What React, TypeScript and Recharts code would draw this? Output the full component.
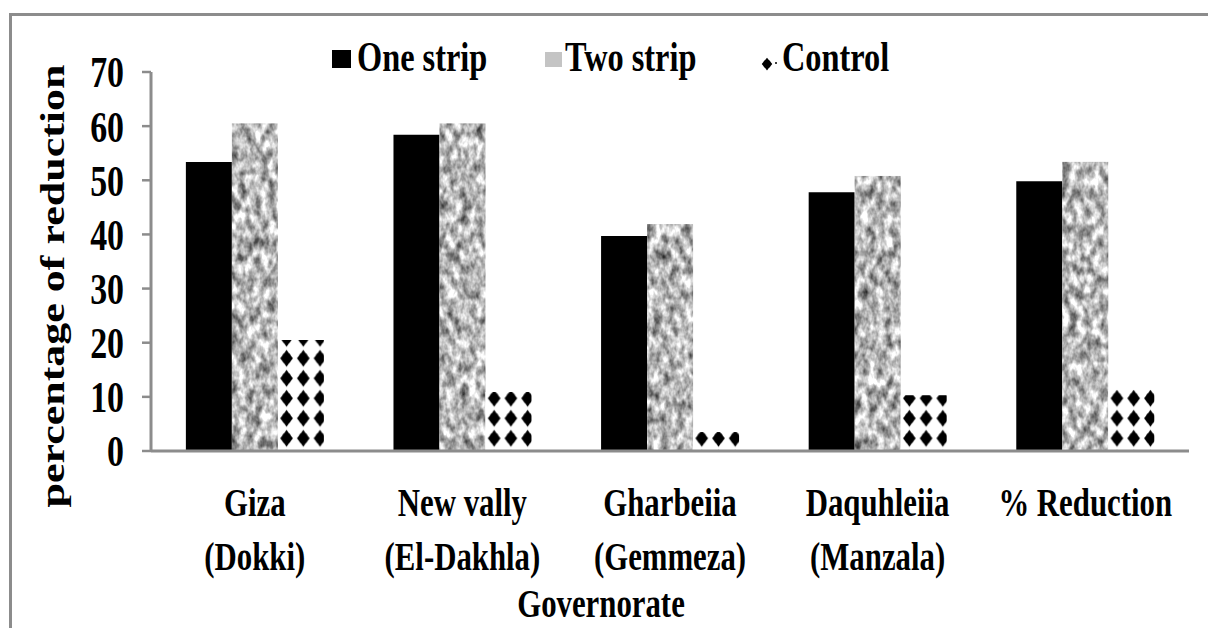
import React from 'react';
import { BarChart, Bar, XAxis, YAxis, Legend } from 'recharts';

const categories = [
  'Giza (Dokki)',
  'New vally (El-Dakhla)',
  'Gharbeiia (Gemmeza)',
  'Daquhleiia (Manzala)',
  '% Reduction',
];
const oneStrip = [53.4, 58.4, 39.7, 47.8, 49.8];
const twoStrip = [60.5, 60.5, 41.9, 50.8, 53.4];
const control = [20.5, 10.9, 3.5, 10.3, 11.3];
const yTicks = [0, 10, 20, 30, 40, 50, 60, 70];

const data = categories.map((c, i) => ({
  category: c,
  one: oneStrip[i],
  two: twoStrip[i],
  control: control[i],
}));

const S = 0.77;
const FONT = '"Liberation Serif", "Times New Roman", serif';
const AXIS = '#8c8c8c';
const STAR =
  'M0,-8.5 L2.6,-5.2 A6,6 0 0 1 5.2,-2.6 L7.5,0 L5.2,2.6 A6,6 0 0 1 2.6,5.2 L0,8.5 L-2.6,5.2 A6,6 0 0 1 -5.2,2.6 L-7.5,0 L-5.2,-2.6 A6,6 0 0 1 -2.6,-5.2 Z';

const XTick = (props: any) => {
  const { x, y, payload } = props;
  const label: string = String(payload.value);
  const idx = label.indexOf(' (');
  const l1 = idx >= 0 ? label.slice(0, idx) : label;
  const l2 = idx >= 0 ? label.slice(idx + 1) : '';
  const common = {
    textAnchor: 'middle' as const,
    fontFamily: FONT,
    fontWeight: 'bold' as const,
    fontSize: 40,
    fill: '#000',
  };
  return (
    <g>
      <text transform={`translate(${x},${y + 65}) scale(${S},1)`} {...common}>
        {l1}
      </text>
      {l2 ? (
        <text transform={`translate(${x},${y + 119}) scale(${S},1)`} {...common}>
          {l2}
        </text>
      ) : null}
    </g>
  );
};

const YTick = (props: any) => {
  const { x, y, payload } = props;
  return (
    <text
      transform={`translate(${x},${y}) scale(${S},1)`}
      textAnchor="end"
      dy="0.35em"
      fontFamily={FONT}
      fontWeight="bold"
      fontSize={44}
      fill="#000"
    >
      {payload.value}
    </text>
  );
};

const YLabel = () => (
  <text
    transform={`translate(64,286) rotate(-90) scale(1,${S})`}
    textAnchor="middle"
    fontFamily={FONT}
    fontWeight="bold"
    fontSize={44}
    fill="#000"
  >
    percentage of reduction
  </text>
);

const XLabel = () => (
  <text
    transform={`translate(601,617) scale(${S},1)`}
    textAnchor="middle"
    fontFamily={FONT}
    fontWeight="bold"
    fontSize={40}
    fill="#000"
  >
    Governorate
  </text>
);

const TwoShape = (props: any) => {
  const { x, y, width, height } = props;
  if (!height || height <= 0) return null;
  return <rect x={x} y={y} width={width} height={height} fill="#a8a8a8" filter="url(#granite)" />;
};

const ControlShape = (props: any) => {
  const { x, y, width, height, index } = props;
  if (!height || height <= 0) return null;
  const pw = width / 2.75;
  const id = `ctrl-pat-${index}`;
  return (
    <g>
      <defs>
        <pattern id={id} patternUnits="userSpaceOnUse" x={x + 8.7 - pw / 2} y={y + height - 22.7} width={pw} height={20}>
          <rect x={0} y={0} width={pw} height={20} fill="#fff" />
          <path d={STAR} transform={`translate(${pw / 2},10) scale(${S * 1.1},1)`} fill="#000" />
        </pattern>
      </defs>
      <rect x={x} y={y} width={width} height={height} fill={`url(#${id})`} />
    </g>
  );
};

const legendPos: Record<string, { icon: number; text: number }> = {
  one: { icon: 332, text: 357 },
  two: { icon: 545, text: 565 },
  control: { icon: 762, text: 782 },
};

const LegendContent = (props: any) => {
  const payload = props.payload || [];
  return (
    <div style={{ position: 'relative', height: 0 }}>
      <svg width={1208} height={100} style={{ position: 'absolute', left: 0, top: 0, overflow: 'visible' }}>
        {payload.map((p: any, i: number) => {
          const key = String(p.dataKey);
          const pos = legendPos[key] || legendPos.one;
          let icon: any = null;
          if (key === 'one') icon = <rect x={pos.icon} y={50} width={19} height={18} fill="#000" />;
          else if (key === 'two') icon = <rect x={pos.icon} y={52} width={17} height={15} fill="#c4c4c4" />;
          else
            icon = (
              <g>
                <path d={STAR} transform={`translate(${pos.icon + 5},64) scale(0.7,0.75)`} fill="#000" />
                <circle cx={pos.icon + 14} cy={63} r={1} fill="#000" />
              </g>
            );
          return (
            <g key={i}>
              {icon}
              <text
                transform={`translate(${pos.text},71) scale(${S},1)`}
                fontFamily={FONT}
                fontWeight="bold"
                fontSize={42}
                fill="#000"
              >
                {p.value}
              </text>
            </g>
          );
        })}
      </svg>
    </div>
  );
};

export default function App() {
  return (
    <div style={{ position: 'absolute', left: 0, top: 0, width: 1208, height: 628, background: '#fff', overflow: 'hidden' }}>
      <div
        style={{
          position: 'absolute',
          left: 9,
          top: 13,
          width: 1210,
          height: 640,
          borderTop: `3px solid ${AXIS}`,
          borderLeft: `3px solid ${AXIS}`,
          boxSizing: 'border-box',
        }}
      />
      <div style={{ position: 'absolute', left: 0, top: 0 }}>
        <BarChart
          width={1208}
          height={628}
          data={data}
          margin={{ top: 72, right: 19, bottom: 0, left: 0 }}
          barCategoryGap="16.8%"
          barGap={0}
        >
          <defs>
            <filter id="granite" x="0" y="0" width="1" height="1" colorInterpolationFilters="sRGB">
              <feTurbulence type="fractalNoise" baseFrequency="0.13 0.08" numOctaves={3} seed={7} result="n" />
              <feColorMatrix
                in="n"
                type="matrix"
                values="1.3 0 0 0 0.07  1.3 0 0 0 0.07  1.3 0 0 0 0.07  0 0 0 0 1"
                result="g"
              />
              <feComposite in="g" in2="SourceGraphic" operator="in" />
            </filter>
          </defs>
          <XAxis
            dataKey="category"
            height={177}
            tickSize={0}
            tickMargin={0}
            tickLine={false}
            interval={0}
            axisLine={{ stroke: AXIS, strokeWidth: 3 }}
            tick={<XTick />}
            label={<XLabel />}
          />
          <YAxis
            width={151}
            domain={[0, 70]}
            ticks={yTicks}
            interval={0}
            tickSize={9}
            tickMargin={18}
            tickLine={{ stroke: AXIS, strokeWidth: 2.5 }}
            axisLine={{ stroke: AXIS, strokeWidth: 3 }}
            tick={<YTick />}
            label={<YLabel />}
          />
          <Legend content={<LegendContent />} wrapperStyle={{ left: 0, top: 0, width: 1208, height: 0 }} />
          <Bar dataKey="one" name="One strip" fill="#000" isAnimationActive={false} />
          <Bar dataKey="two" name="Two strip" fill="#a8a8a8" shape={<TwoShape />} isAnimationActive={false} />
          <Bar dataKey="control" name="Control" fill="#000" shape={<ControlShape />} isAnimationActive={false} />
        </BarChart>
      </div>
    </div>
  );
}
